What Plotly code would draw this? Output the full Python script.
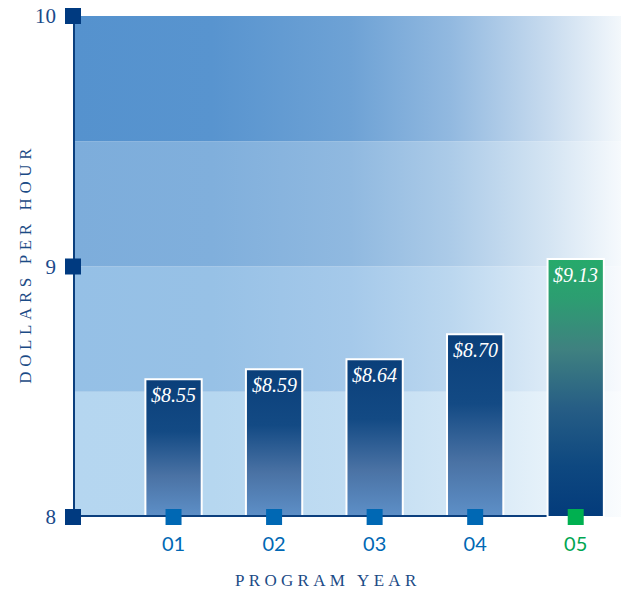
import plotly.graph_objects as go

# data
years = ["01", "02", "03", "04", "05"]
wage_labels = ["$8.55", "$8.59", "$8.64", "$8.70", "$9.13"]
# bar heights as drawn in the original (last bar is drawn below its label value)
bar_tops = [8.55, 8.59, 8.63, 8.73, 9.03]
y_ticks = [8, 9, 10]
bands = [(8.0, 8.5, "#B5D6F0"), (8.5, 9.0, "#95C0E6"),
         (9.0, 9.5, "#7DADDB"), (9.5, 10.0, "#5592CE")]

X0, X1 = -1, 4.53
HALF = 0.28
NAVY = "#0B3F7E"


def fade(hex_c, m):
    r, g, b = (int(hex_c[i:i + 2], 16) for i in (1, 3, 5))
    mix = lambda c: round(c + (255 - c) * m)
    return f"rgb({mix(r)},{mix(g)},{mix(b)})"


fig = go.Figure()

# background bands fading to white on the right
for lo, hi, col in bands:
    steps = [(0, 0), (0.25, 0.02), (0.5, 0.15), (0.68, 0.36), (0.86, 0.68), (1, 0.96)]
    fig.add_trace(go.Scatter(
        x=[X0, X1, X1, X0, X0], y=[lo, lo, hi, hi, lo],
        mode="lines", line=dict(width=0), fill="toself",
        fillgradient=dict(type="horizontal",
                          colorscale=[[p, fade(col, m)] for p, m in steps]),
        hoverinfo="skip", showlegend=False))

blue_scale = [[0, "#5E90C8"], [0.3, "#4A72A4"], [0.62, "#134A84"], [1, "#0A3F7A"]]
green_scale = [[0, "#033B7B"], [0.2, "#0E4880"], [0.42, "#265D85"],
               [0.65, "#3F8180"], [0.85, "#2C9E71"], [1, "#26AA6B"]]

# bars 1-4
for i in range(4):
    fig.add_trace(go.Scatter(
        x=[i - HALF, i + HALF, i + HALF, i - HALF, i - HALF],
        y=[8, 8, bar_tops[i], bar_tops[i], 8],
        mode="lines", line=dict(color="white", width=2), fill="toself",
        fillgradient=dict(type="vertical", colorscale=blue_scale),
        hoverinfo="skip", showlegend=False))

# axis lines
fig.add_trace(go.Scatter(x=[X0, X0], y=[8, 10], mode="lines",
                         line=dict(color=NAVY, width=4), cliponaxis=False,
                         hoverinfo="skip", showlegend=False))
fig.add_trace(go.Scatter(x=[X0, 4 - HALF], y=[8, 8], mode="lines",
                         line=dict(color=NAVY, width=4), cliponaxis=False,
                         hoverinfo="skip", showlegend=False))

# bar 5 (green)
fig.add_trace(go.Scatter(
    x=[4 - HALF, 4 + HALF, 4 + HALF, 4 - HALF, 4 - HALF],
    y=[8, 8, bar_tops[4], bar_tops[4], 8],
    mode="lines", line=dict(color="white", width=2), fill="toself",
    fillgradient=dict(type="vertical", colorscale=green_scale),
    hoverinfo="skip", showlegend=False))

# square tick markers
fig.add_trace(go.Scatter(x=[X0] * len(y_ticks), y=y_ticks, mode="markers",
                         marker=dict(symbol="square", size=16, color="#003A80"),
                         cliponaxis=False, hoverinfo="skip", showlegend=False))
fig.add_trace(go.Scatter(x=list(range(5)), y=[8] * 5, mode="markers",
                         marker=dict(symbol="square", size=16,
                                     color=["#0068B4"] * 4 + ["#00B050"]),
                         cliponaxis=False, hoverinfo="skip", showlegend=False))

# value labels
for i, lab in enumerate(wage_labels):
    fig.add_annotation(x=i, y=bar_tops[i], text=f"<i>{lab}</i>", showarrow=False,
                       yanchor="top", yshift=-3,
                       font=dict(family="Liberation Serif", size=20, color="white"))

fig.add_annotation(xref="paper", yref="paper", x=-0.086, y=0.506, textangle=-90,
                   xanchor="center", yanchor="middle",
                   text="<span style='letter-spacing:4.6px'>DOLLARS PER HOUR</span>",
                   showarrow=False,
                   font=dict(family="Liberation Serif", size=17, color="#1B4B86"))
fig.add_annotation(xref="paper", yref="paper", x=0.458, y=-0.126,
                   xanchor="center", yanchor="middle",
                   text="<span style='letter-spacing:4.3px'>PROGRAM YEAR</span>",
                   showarrow=False,
                   font=dict(family="Liberation Serif", size=17, color="#1B4B86"))

tick_text = years[:4] + [f"<span style='color:#00A651'>{years[4]}</span>"]

# page body adds an 8px offset, so the figure is 8px smaller
fig.update_layout(
    width=621, height=586,
    margin=dict(l=65, r=0, t=8, b=77),
    paper_bgcolor="white", plot_bgcolor="white",
    showlegend=False,
    xaxis=dict(range=[X0, X1], showgrid=False, zeroline=False, showline=False,
               tickvals=list(range(5)), ticktext=tick_text, ticks="",
               ticklabelstandoff=13, automargin=False,
               tickfont=dict(family="Lato", size=20, color="#0068B4")),
    yaxis=dict(range=[8, 10], showgrid=False, zeroline=False, showline=False,
               tickvals=y_ticks, ticks="", ticklabelstandoff=16,
               ticklabeloverflow="allow", automargin=False,
               tickfont=dict(family="Liberation Serif", size=21, color="#1A4A8A")),
)

fig.write_html("out.html")
